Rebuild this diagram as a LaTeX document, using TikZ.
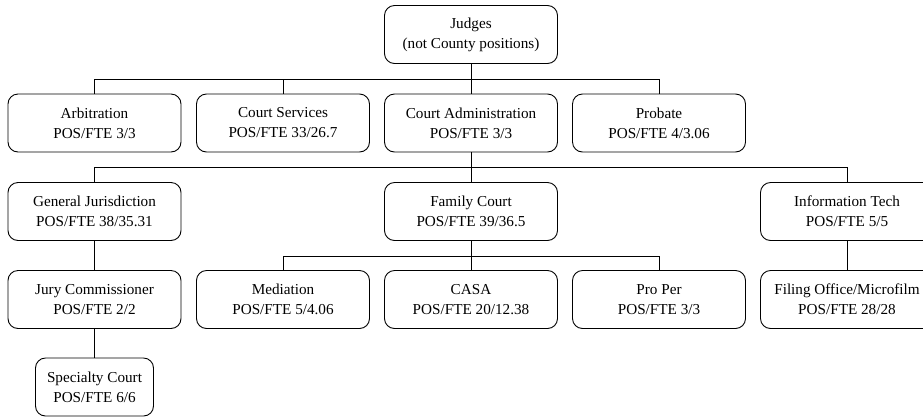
\documentclass[tikz,border=0pt]{standalone}
\usepackage{fontspec}
\setmainfont{Liberation Serif}
\begin{document}
\begin{tikzpicture}[x=1pt,y=-1pt,
  box/.style={draw, line width=0.9pt, rounded corners=10pt, minimum width=173pt, minimum height=58pt, inner sep=0pt, align=center, font=\fontsize{15.2}{20}\selectfont},
  link/.style={draw, line width=0.9pt}]
\useasboundingbox (0,0) rectangle (923,416);
\clip (0,0) rectangle (923,416);
\node[box] (judges) at (471,34.5) {Judges\\(not County positions)};
\node[box] (arb) at (94.5,123) {Arbitration\\POS/FTE 3/3};
\node[box] (serv) at (283,123) {Court Services\\POS/FTE 33/26.7};
\node[box] (admin) at (471,123) {Court Administration\\POS/FTE 3/3};
\node[box] (prob) at (659,123) {Probate\\POS/FTE 4/3.06};
\node[box] (gj) at (94.5,211.5) {General Jurisdiction\\POS/FTE 38/35.31};
\node[box] (fam) at (471,211.5) {Family Court\\POS/FTE 39/36.5};
\node[box] (it) at (847,211.5) {Information Tech\\POS/FTE 5/5};
\node[box] (jury) at (94.5,299.5) {Jury Commissioner\\POS/FTE 2/2};
\node[box] (med) at (283,299.5) {Mediation\\POS/FTE 5/4.06};
\node[box] (casa) at (471,299.5) {CASA\\POS/FTE 20/12.38};
\node[box] (pro) at (659,299.5) {Pro Per\\POS/FTE 3/3};
\node[box] (fil) at (847,299.5) {Filing Office/Microfilm\\POS/FTE 28/28};
\node[box, minimum width=118pt] (spec) at (94.5,387) {Specialty Court\\POS/FTE 6/6};
\coordinate (h1) at (471,79);
\coordinate (h2) at (471,167);
\coordinate (h3) at (471,256);
\path[link] (judges.south) -- (admin.north);
\path[link] (arb.north) -- (arb.north |- h1) -- (prob.north |- h1) -- (prob.north);
\path[link] (serv.north) -- (serv.north |- h1);
\path[link] (admin.south) -- (fam.north);
\path[link] (gj.north) -- (gj.north |- h2) -- (it.north |- h2) -- (it.north);
\path[link] (fam.south) -- (casa.north);
\path[link] (med.north) -- (med.north |- h3) -- (pro.north |- h3) -- (pro.north);
\path[link] (gj.south) -- (jury.north);
\path[link] (jury.south) -- (spec.north);
\path[link] (it.south) -- (fil.north);
\end{tikzpicture}
\end{document}
